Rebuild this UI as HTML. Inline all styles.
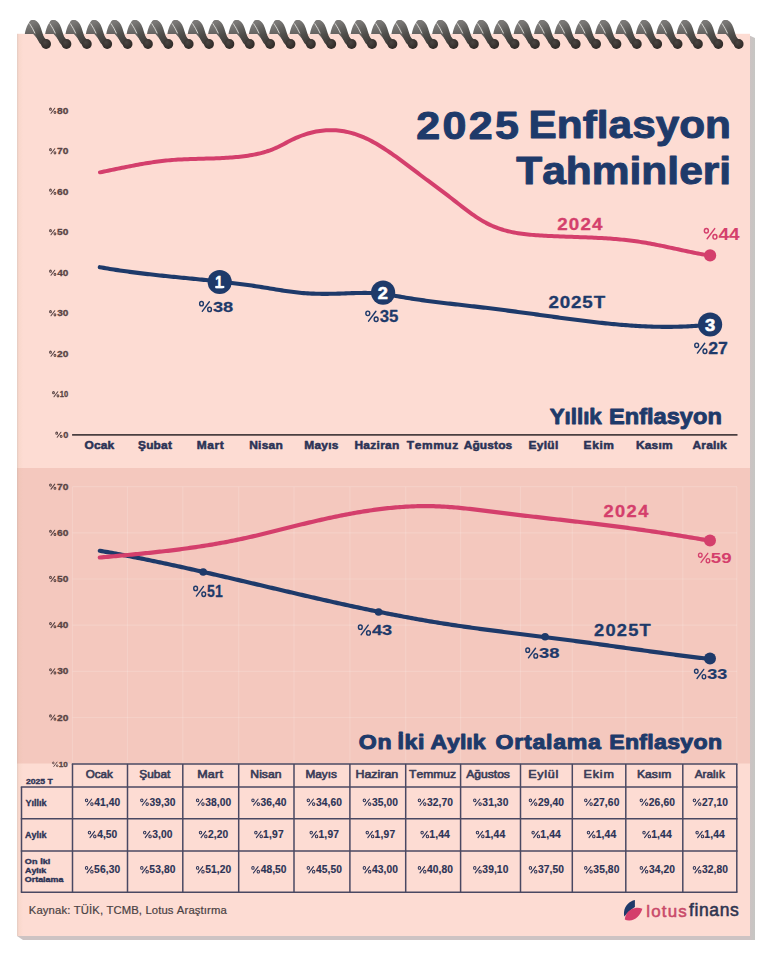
<!DOCTYPE html>
<html><head><meta charset="utf-8"><title>2025 Enflasyon Tahminleri</title>
<style>html,body{margin:0;padding:0;background:#ffffff;width:768px;height:960px;overflow:hidden;font-family:"Liberation Sans", sans-serif;}
svg{display:block;} text{font-family:"Liberation Sans", sans-serif;font-kerning:none;font-variant-ligatures:none;}</style></head><body>
<svg width="768" height="960" viewBox="0 0 768 960"><defs>
<linearGradient id="cb" gradientUnits="userSpaceOnUse" x1="0" y1="-24" x2="0" y2="-8">
 <stop offset="0" stop-color="#8a8886"/>
 <stop offset="1" stop-color="#5f5d5b"/>
</linearGradient>
<linearGradient id="cf" gradientUnits="userSpaceOnUse" x1="-12" y1="-22" x2="0" y2="2">
 <stop offset="0" stop-color="#7a7876"/>
 <stop offset="0.5" stop-color="#4f4e4b"/>
 <stop offset="1" stop-color="#3a3532"/>
</linearGradient>
<radialGradient id="cball" gradientUnits="userSpaceOnUse" cx="-1" cy="-1.5" r="5.5">
 <stop offset="0" stop-color="#4a4542"/>
 <stop offset="1" stop-color="#332d2a"/>
</radialGradient>
<g id="coil">
 <path d="M-21.1,-9.9 C-19.8,-17.5 -16.6,-24 -12.7,-24 C-9.2,-24 -7.5,-19.5 -5.5,-14 C-3.5,-8.5 -1.5,-5.2 1,-4.3 L1,4.7 C-2,4.7 -3.5,1 -4.9,-1 C-7.3,-3.5 -10.5,-7.4 -12.7,-9.9 Z" fill="url(#cb)"/>
 <path d="M-13.2,-20.6 C-9.6,-20.9 -8.2,-15 -6.8,-10.2 C-5.6,-5.8 -4,-1.5 0,0" fill="none" stroke="url(#cf)" stroke-width="6.8" stroke-linecap="round"/>
 <circle cx="0.2" cy="0" r="4.9" fill="url(#cball)"/>
 <path d="M-16.4,-20.6 C-14.3,-17.4 -12.5,-14 -10.9,-10.6" fill="none" stroke="#dddbd7" stroke-width="1.0" opacity="0.9"/>
</g>
</defs><linearGradient id="shg" gradientUnits="userSpaceOnUse" x1="749.5" y1="0" x2="755" y2="0"><stop offset="0" stop-color="#cdc3c3"/><stop offset="1" stop-color="#c6c6c3"/></linearGradient>
<path d="M749.5,35.5 L755,38 L755,940 L23,940 L17,936 L749.5,936 Z" fill="url(#shg)"/>
<rect x="17" y="33.8" width="733" height="902.2" fill="#fddcd3"/>
<rect x="17" y="468" width="733" height="295.5" fill="#f4c8be"/>
<linearGradient id="leg" gradientUnits="userSpaceOnUse" x1="17" y1="0" x2="23" y2="0"><stop offset="0" stop-color="#8a9088" stop-opacity="0.24"/><stop offset="0.35" stop-color="#e0c0a0" stop-opacity="0.12"/><stop offset="1" stop-color="#d0b090" stop-opacity="0"/></linearGradient>
<rect x="17" y="33.8" width="6" height="902.2" fill="url(#leg)"/>
<use href="#coil" transform="translate(45.90,44.0)"/>
<use href="#coil" transform="translate(66.27,44.0)"/>
<use href="#coil" transform="translate(86.64,44.0)"/>
<use href="#coil" transform="translate(107.01,44.0)"/>
<use href="#coil" transform="translate(127.38,44.0)"/>
<use href="#coil" transform="translate(147.75,44.0)"/>
<use href="#coil" transform="translate(168.12,44.0)"/>
<use href="#coil" transform="translate(188.49,44.0)"/>
<use href="#coil" transform="translate(208.86,44.0)"/>
<use href="#coil" transform="translate(229.23,44.0)"/>
<use href="#coil" transform="translate(249.60,44.0)"/>
<use href="#coil" transform="translate(269.97,44.0)"/>
<use href="#coil" transform="translate(290.34,44.0)"/>
<use href="#coil" transform="translate(310.71,44.0)"/>
<use href="#coil" transform="translate(331.08,44.0)"/>
<use href="#coil" transform="translate(351.45,44.0)"/>
<use href="#coil" transform="translate(371.82,44.0)"/>
<use href="#coil" transform="translate(392.19,44.0)"/>
<use href="#coil" transform="translate(412.56,44.0)"/>
<use href="#coil" transform="translate(432.93,44.0)"/>
<use href="#coil" transform="translate(453.30,44.0)"/>
<use href="#coil" transform="translate(473.67,44.0)"/>
<use href="#coil" transform="translate(494.04,44.0)"/>
<use href="#coil" transform="translate(514.41,44.0)"/>
<use href="#coil" transform="translate(534.78,44.0)"/>
<use href="#coil" transform="translate(555.15,44.0)"/>
<use href="#coil" transform="translate(575.52,44.0)"/>
<use href="#coil" transform="translate(595.89,44.0)"/>
<use href="#coil" transform="translate(616.26,44.0)"/>
<use href="#coil" transform="translate(636.63,44.0)"/>
<use href="#coil" transform="translate(657.00,44.0)"/>
<use href="#coil" transform="translate(677.37,44.0)"/>
<use href="#coil" transform="translate(697.74,44.0)"/>
<use href="#coil" transform="translate(718.11,44.0)"/>
<use href="#coil" transform="translate(738.48,44.0)"/>
<g font-family="Liberation Sans, sans-serif" style="font-kerning:none;font-variant-ligatures:none">
<g fill="none" stroke="#5a4545" stroke-width="1.04"><ellipse cx="50.49" cy="109.18" rx="0.91" ry="1.07"/><ellipse cx="54.96" cy="112.36" rx="0.91" ry="1.07"/><line x1="50.98" y1="113.26" x2="54.75" y2="108.19" stroke-linecap="round"/></g>
<text transform="translate(57.07,113.75) scale(1.2185,1)" font-size="8.31" font-weight="bold" fill="#5a4545" stroke="#5a4545" stroke-width="0.30" stroke-linejoin="round">80</text>
<g fill="none" stroke="#5a4545" stroke-width="1.04"><ellipse cx="50.49" cy="149.68" rx="0.91" ry="1.07"/><ellipse cx="54.96" cy="152.86" rx="0.91" ry="1.07"/><line x1="50.98" y1="153.76" x2="54.75" y2="148.69" stroke-linecap="round"/></g>
<text transform="translate(56.96,154.25) scale(1.2313,1)" font-size="8.31" font-weight="bold" fill="#5a4545" stroke="#5a4545" stroke-width="0.30" stroke-linejoin="round">70</text>
<g fill="none" stroke="#5a4545" stroke-width="1.04"><ellipse cx="50.49" cy="190.18" rx="0.91" ry="1.07"/><ellipse cx="54.96" cy="193.36" rx="0.91" ry="1.07"/><line x1="50.98" y1="194.26" x2="54.75" y2="189.19" stroke-linecap="round"/></g>
<text transform="translate(57.02,194.75) scale(1.2240,1)" font-size="8.31" font-weight="bold" fill="#5a4545" stroke="#5a4545" stroke-width="0.30" stroke-linejoin="round">60</text>
<g fill="none" stroke="#5a4545" stroke-width="1.04"><ellipse cx="50.49" cy="230.68" rx="0.91" ry="1.07"/><ellipse cx="54.96" cy="233.86" rx="0.91" ry="1.07"/><line x1="50.98" y1="234.76" x2="54.75" y2="229.69" stroke-linecap="round"/></g>
<text transform="translate(57.08,235.25) scale(1.2173,1)" font-size="8.31" font-weight="bold" fill="#5a4545" stroke="#5a4545" stroke-width="0.30" stroke-linejoin="round">50</text>
<g fill="none" stroke="#5a4545" stroke-width="1.04"><ellipse cx="50.49" cy="271.18" rx="0.91" ry="1.07"/><ellipse cx="54.96" cy="274.36" rx="0.91" ry="1.07"/><line x1="50.98" y1="275.26" x2="54.75" y2="270.19" stroke-linecap="round"/></g>
<text transform="translate(57.24,275.75) scale(1.1999,1)" font-size="8.31" font-weight="bold" fill="#5a4545" stroke="#5a4545" stroke-width="0.30" stroke-linejoin="round">40</text>
<g fill="none" stroke="#5a4545" stroke-width="1.04"><ellipse cx="50.49" cy="311.68" rx="0.91" ry="1.07"/><ellipse cx="54.96" cy="314.86" rx="0.91" ry="1.07"/><line x1="50.98" y1="315.76" x2="54.75" y2="310.69" stroke-linecap="round"/></g>
<text transform="translate(57.16,316.25) scale(1.2086,1)" font-size="8.31" font-weight="bold" fill="#5a4545" stroke="#5a4545" stroke-width="0.30" stroke-linejoin="round">30</text>
<g fill="none" stroke="#5a4545" stroke-width="1.04"><ellipse cx="50.49" cy="352.18" rx="0.91" ry="1.07"/><ellipse cx="54.96" cy="355.36" rx="0.91" ry="1.07"/><line x1="50.98" y1="356.26" x2="54.75" y2="351.19" stroke-linecap="round"/></g>
<text transform="translate(57.04,356.75) scale(1.2218,1)" font-size="8.31" font-weight="bold" fill="#5a4545" stroke="#5a4545" stroke-width="0.30" stroke-linejoin="round">20</text>
<g fill="none" stroke="#5a4545" stroke-width="1.04"><ellipse cx="53.49" cy="392.68" rx="0.91" ry="1.07"/><ellipse cx="57.96" cy="395.86" rx="0.91" ry="1.07"/><line x1="53.98" y1="396.76" x2="57.75" y2="391.69" stroke-linecap="round"/></g>
<text transform="translate(59.87,397.25) scale(0.9091,1)" font-size="8.31" font-weight="bold" fill="#5a4545" stroke="#5a4545" stroke-width="0.30" stroke-linejoin="round">10</text>
<g fill="none" stroke="#5a4545" stroke-width="1.04"><ellipse cx="56.69" cy="433.18" rx="0.91" ry="1.07"/><ellipse cx="61.16" cy="436.36" rx="0.91" ry="1.07"/><line x1="57.18" y1="437.26" x2="60.95" y2="432.19" stroke-linecap="round"/></g>
<text transform="translate(63.22,437.75) scale(1.1027,1)" font-size="8.31" font-weight="bold" fill="#5a4545" stroke="#5a4545" stroke-width="0.30" stroke-linejoin="round">0</text>
<line x1="72.1" y1="434.9" x2="737.5" y2="434.9" stroke="#4a3f40" stroke-width="1.9"/>
<text transform="translate(84.59,448.95) scale(1.1200,1)" font-size="10.67" font-weight="bold" fill="#2c3356" stroke="#2c3356" stroke-width="0.50" stroke-linejoin="round" letter-spacing="0.08">Ocak</text>
<text transform="translate(138.01,448.95) scale(1.1200,1)" font-size="10.67" font-weight="bold" fill="#2c3356" stroke="#2c3356" stroke-width="0.50" stroke-linejoin="round" letter-spacing="0.16">Şubat</text>
<text transform="translate(196.77,448.95) scale(1.1200,1)" font-size="10.67" font-weight="bold" fill="#2c3356" stroke="#2c3356" stroke-width="0.50" stroke-linejoin="round" letter-spacing="0.49">Mart</text>
<text transform="translate(249.14,448.95) scale(1.1200,1)" font-size="10.67" font-weight="bold" fill="#2c3356" stroke="#2c3356" stroke-width="0.50" stroke-linejoin="round" letter-spacing="0.25">Nisan</text>
<text transform="translate(304.16,448.95) scale(1.1200,1)" font-size="10.67" font-weight="bold" fill="#2c3356" stroke="#2c3356" stroke-width="0.50" stroke-linejoin="round" letter-spacing="0.25">Mayıs</text>
<text transform="translate(354.43,448.95) scale(1.1200,1)" font-size="10.67" font-weight="bold" fill="#2c3356" stroke="#2c3356" stroke-width="0.50" stroke-linejoin="round" letter-spacing="0.27">Haziran</text>
<text transform="translate(406.87,448.95) scale(1.1200,1)" font-size="10.67" font-weight="bold" fill="#2c3356" stroke="#2c3356" stroke-width="0.50" stroke-linejoin="round" letter-spacing="0.52">Temmuz</text>
<text transform="translate(463.67,448.95) scale(1.1200,1)" font-size="10.67" font-weight="bold" fill="#2c3356" stroke="#2c3356" stroke-width="0.50" stroke-linejoin="round" letter-spacing="0.12">Ağustos</text>
<text transform="translate(528.44,448.95) scale(1.1200,1)" font-size="10.67" font-weight="bold" fill="#2c3356" stroke="#2c3356" stroke-width="0.50" stroke-linejoin="round" letter-spacing="0.30">Eylül</text>
<text transform="translate(583.61,448.95) scale(1.1200,1)" font-size="10.67" font-weight="bold" fill="#2c3356" stroke="#2c3356" stroke-width="0.50" stroke-linejoin="round" letter-spacing="0.54">Ekim</text>
<text transform="translate(635.98,448.95) scale(1.1200,1)" font-size="10.67" font-weight="bold" fill="#2c3356" stroke="#2c3356" stroke-width="0.50" stroke-linejoin="round" letter-spacing="0.16">Kasım</text>
<text transform="translate(692.50,448.95) scale(1.1200,1)" font-size="10.67" font-weight="bold" fill="#2c3356" stroke="#2c3356" stroke-width="0.50" stroke-linejoin="round" letter-spacing="0.18">Aralık</text>
<path d="M100.00,172.34 L102.00,171.94 L104.00,171.53 L106.00,171.12 L108.00,170.71 L110.00,170.30 L112.00,169.88 L114.00,169.47 L116.00,169.06 L118.00,168.64 L120.00,168.23 L122.00,167.82 L124.00,167.42 L126.00,167.02 L128.00,166.62 L130.00,166.22 L132.00,165.84 L134.00,165.45 L136.00,165.08 L138.00,164.71 L140.00,164.34 L142.00,163.99 L144.00,163.64 L146.00,163.31 L148.00,162.98 L150.00,162.66 L152.00,162.36 L154.00,162.07 L156.00,161.78 L158.00,161.51 L160.00,161.26 L162.00,161.02 L164.00,160.79 L166.00,160.58 L168.00,160.38 L170.00,160.20 L172.00,160.03 L174.00,159.88 L176.00,159.74 L178.00,159.62 L180.00,159.50 L182.00,159.40 L184.00,159.30 L186.00,159.22 L188.00,159.14 L190.00,159.07 L192.00,159.00 L194.00,158.94 L196.00,158.88 L198.00,158.83 L200.00,158.77 L202.00,158.72 L204.00,158.67 L206.00,158.62 L208.00,158.57 L210.00,158.51 L212.00,158.45 L214.00,158.38 L216.00,158.31 L218.00,158.24 L220.00,158.15 L222.00,158.06 L224.00,157.96 L226.00,157.84 L228.00,157.72 L230.00,157.58 L232.00,157.43 L234.00,157.27 L236.00,157.09 L238.00,156.90 L240.00,156.69 L242.00,156.46 L244.00,156.21 L246.00,155.94 L248.00,155.65 L250.00,155.34 L252.00,155.00 L254.00,154.64 L256.00,154.24 L258.00,153.80 L260.00,153.33 L262.00,152.82 L264.00,152.27 L266.00,151.67 L268.00,151.02 L270.00,150.33 L272.00,149.58 L274.00,148.77 L276.00,147.91 L278.00,146.99 L280.00,146.01 L282.00,144.99 L284.00,143.95 L286.00,142.89 L288.00,141.84 L290.00,140.80 L292.00,139.80 L294.00,138.84 L296.00,137.93 L298.00,137.07 L300.00,136.26 L302.00,135.50 L304.00,134.79 L306.00,134.13 L308.00,133.52 L310.00,132.96 L312.00,132.45 L314.00,131.99 L316.00,131.58 L318.00,131.23 L320.00,130.92 L322.00,130.67 L324.00,130.46 L326.00,130.31 L328.00,130.21 L330.00,130.17 L332.00,130.17 L334.00,130.23 L336.00,130.34 L338.00,130.50 L340.00,130.71 L342.00,130.98 L344.00,131.30 L346.00,131.68 L348.00,132.10 L350.00,132.58 L352.00,133.12 L354.00,133.71 L356.00,134.35 L358.00,135.04 L360.00,135.79 L362.00,136.60 L364.00,137.45 L366.00,138.36 L368.00,139.32 L370.00,140.32 L372.00,141.37 L374.00,142.46 L376.00,143.59 L378.00,144.77 L380.00,145.97 L382.00,147.22 L384.00,148.49 L386.00,149.80 L388.00,151.13 L390.00,152.50 L392.00,153.88 L394.00,155.29 L396.00,156.72 L398.00,158.17 L400.00,159.63 L402.00,161.11 L404.00,162.60 L406.00,164.10 L408.00,165.61 L410.00,167.13 L412.00,168.65 L414.00,170.17 L416.00,171.69 L418.00,173.21 L420.00,174.73 L422.00,176.24 L424.00,177.74 L426.00,179.23 L428.00,180.72 L430.00,182.20 L432.00,183.68 L434.00,185.16 L436.00,186.64 L438.00,188.13 L440.00,189.61 L442.00,191.11 L444.00,192.62 L446.00,194.14 L448.00,195.67 L450.00,197.22 L452.00,198.77 L454.00,200.34 L456.00,201.91 L458.00,203.48 L460.00,205.04 L462.00,206.59 L464.00,208.13 L466.00,209.65 L468.00,211.15 L470.00,212.62 L472.00,214.06 L474.00,215.46 L476.00,216.82 L478.00,218.13 L480.00,219.40 L482.00,220.61 L484.00,221.77 L486.00,222.86 L488.00,223.89 L490.00,224.86 L492.00,225.77 L494.00,226.62 L496.00,227.42 L498.00,228.17 L500.00,228.86 L502.00,229.51 L504.00,230.12 L506.00,230.67 L508.00,231.19 L510.00,231.67 L512.00,232.11 L514.00,232.51 L516.00,232.88 L518.00,233.22 L520.00,233.53 L522.00,233.81 L524.00,234.07 L526.00,234.30 L528.00,234.51 L530.00,234.71 L532.00,234.88 L534.00,235.05 L536.00,235.19 L538.00,235.33 L540.00,235.46 L542.00,235.58 L544.00,235.70 L546.00,235.81 L548.00,235.91 L550.00,236.01 L552.00,236.11 L554.00,236.20 L556.00,236.28 L558.00,236.36 L560.00,236.44 L562.00,236.52 L564.00,236.59 L566.00,236.66 L568.00,236.73 L570.00,236.80 L572.00,236.87 L574.00,236.94 L576.00,237.01 L578.00,237.08 L580.00,237.15 L582.00,237.22 L584.00,237.29 L586.00,237.37 L588.00,237.45 L590.00,237.53 L592.00,237.61 L594.00,237.70 L596.00,237.80 L598.00,237.90 L600.00,238.00 L602.00,238.11 L604.00,238.23 L606.00,238.35 L608.00,238.48 L610.00,238.62 L612.00,238.76 L614.00,238.92 L616.00,239.08 L618.00,239.25 L620.00,239.43 L622.00,239.62 L624.00,239.82 L626.00,240.03 L628.00,240.26 L630.00,240.49 L632.00,240.74 L634.00,241.00 L636.00,241.27 L638.00,241.56 L640.00,241.86 L642.00,242.17 L644.00,242.50 L646.00,242.84 L648.00,243.19 L650.00,243.55 L652.00,243.93 L654.00,244.31 L656.00,244.70 L658.00,245.09 L660.00,245.50 L662.00,245.91 L664.00,246.32 L666.00,246.75 L668.00,247.17 L670.00,247.60 L672.00,248.03 L674.00,248.46 L676.00,248.89 L678.00,249.32 L680.00,249.76 L682.00,250.19 L684.00,250.62 L686.00,251.04 L688.00,251.46 L690.00,251.88 L692.00,252.29 L694.00,252.70 L696.00,253.10 L698.00,253.49 L700.00,253.87 L702.00,254.25 L704.00,254.61 L706.00,254.97 L708.00,255.31 L710.00,255.64 L710.10,255.66" fill="none" stroke="#d43f6c" stroke-width="4" stroke-linecap="round" stroke-linejoin="round"/>
<path d="M99.80,267.18 L101.80,267.53 L103.80,267.89 L105.80,268.23 L107.80,268.57 L109.80,268.90 L111.80,269.22 L113.80,269.54 L115.80,269.85 L117.80,270.15 L119.80,270.45 L121.80,270.74 L123.80,271.03 L125.80,271.31 L127.80,271.59 L129.80,271.86 L131.80,272.12 L133.80,272.38 L135.80,272.64 L137.80,272.89 L139.80,273.14 L141.80,273.38 L143.80,273.62 L145.80,273.86 L147.80,274.09 L149.80,274.32 L151.80,274.55 L153.80,274.77 L155.80,274.99 L157.80,275.21 L159.80,275.42 L161.80,275.64 L163.80,275.85 L165.80,276.06 L167.80,276.26 L169.80,276.47 L171.80,276.67 L173.80,276.87 L175.80,277.07 L177.80,277.27 L179.80,277.47 L181.80,277.67 L183.80,277.87 L185.80,278.07 L187.80,278.27 L189.80,278.46 L191.80,278.66 L193.80,278.86 L195.80,279.06 L197.80,279.26 L199.80,279.46 L201.80,279.66 L203.80,279.87 L205.80,280.07 L207.80,280.28 L209.80,280.49 L211.80,280.70 L213.80,280.91 L215.80,281.12 L217.80,281.34 L219.80,281.56 L221.80,281.78 L223.80,282.01 L225.80,282.24 L227.80,282.47 L229.80,282.71 L231.80,282.95 L233.80,283.19 L235.80,283.44 L237.80,283.69 L239.80,283.94 L241.80,284.21 L243.80,284.47 L245.80,284.74 L247.80,285.02 L249.80,285.30 L251.80,285.58 L253.80,285.88 L255.80,286.17 L257.80,286.48 L259.80,286.79 L261.80,287.10 L263.80,287.42 L265.80,287.75 L267.80,288.08 L269.80,288.41 L271.80,288.74 L273.80,289.07 L275.80,289.40 L277.80,289.73 L279.80,290.05 L281.80,290.37 L283.80,290.68 L285.80,290.98 L287.80,291.27 L289.80,291.55 L291.80,291.82 L293.80,292.07 L295.80,292.31 L297.80,292.54 L299.80,292.74 L301.80,292.93 L303.80,293.10 L305.80,293.25 L307.80,293.38 L309.80,293.50 L311.80,293.59 L313.80,293.67 L315.80,293.73 L317.80,293.78 L319.80,293.82 L321.80,293.84 L323.80,293.85 L325.80,293.85 L327.80,293.84 L329.80,293.81 L331.80,293.78 L333.80,293.74 L335.80,293.70 L337.80,293.65 L339.80,293.59 L341.80,293.52 L343.80,293.46 L345.80,293.39 L347.80,293.31 L349.80,293.24 L351.80,293.17 L353.80,293.11 L355.80,293.05 L357.80,293.00 L359.80,292.96 L361.80,292.93 L363.80,292.92 L365.80,292.92 L367.80,292.94 L369.80,292.98 L371.80,293.04 L373.80,293.13 L375.80,293.24 L377.80,293.38 L379.80,293.55 L381.80,293.75 L383.80,293.98 L385.80,294.25 L387.80,294.55 L389.80,294.87 L391.80,295.20 L393.80,295.55 L395.80,295.91 L397.80,296.27 L399.80,296.63 L401.80,296.98 L403.80,297.32 L405.80,297.66 L407.80,297.98 L409.80,298.31 L411.80,298.62 L413.80,298.93 L415.80,299.23 L417.80,299.53 L419.80,299.82 L421.80,300.10 L423.80,300.38 L425.80,300.66 L427.80,300.93 L429.80,301.19 L431.80,301.45 L433.80,301.71 L435.80,301.96 L437.80,302.21 L439.80,302.46 L441.80,302.71 L443.80,302.95 L445.80,303.19 L447.80,303.42 L449.80,303.66 L451.80,303.89 L453.80,304.12 L455.80,304.35 L457.80,304.58 L459.80,304.81 L461.80,305.04 L463.80,305.27 L465.80,305.49 L467.80,305.72 L469.80,305.95 L471.80,306.18 L473.80,306.41 L475.80,306.64 L477.80,306.88 L479.80,307.11 L481.80,307.35 L483.80,307.59 L485.80,307.83 L487.80,308.07 L489.80,308.32 L491.80,308.57 L493.80,308.81 L495.80,309.07 L497.80,309.32 L499.80,309.57 L501.80,309.83 L503.80,310.08 L505.80,310.34 L507.80,310.60 L509.80,310.86 L511.80,311.13 L513.80,311.39 L515.80,311.65 L517.80,311.92 L519.80,312.19 L521.80,312.46 L523.80,312.73 L525.80,313.00 L527.80,313.27 L529.80,313.54 L531.80,313.81 L533.80,314.09 L535.80,314.36 L537.80,314.64 L539.80,314.91 L541.80,315.19 L543.80,315.46 L545.80,315.74 L547.80,316.02 L549.80,316.29 L551.80,316.57 L553.80,316.85 L555.80,317.12 L557.80,317.39 L559.80,317.67 L561.80,317.94 L563.80,318.21 L565.80,318.48 L567.80,318.75 L569.80,319.01 L571.80,319.28 L573.80,319.54 L575.80,319.80 L577.80,320.06 L579.80,320.31 L581.80,320.56 L583.80,320.81 L585.80,321.06 L587.80,321.30 L589.80,321.55 L591.80,321.78 L593.80,322.02 L595.80,322.25 L597.80,322.47 L599.80,322.70 L601.80,322.91 L603.80,323.13 L605.80,323.34 L607.80,323.54 L609.80,323.74 L611.80,323.94 L613.80,324.13 L615.80,324.32 L617.80,324.50 L619.80,324.67 L621.80,324.84 L623.80,325.01 L625.80,325.16 L627.80,325.32 L629.80,325.46 L631.80,325.60 L633.80,325.73 L635.80,325.86 L637.80,325.98 L639.80,326.09 L641.80,326.20 L643.80,326.30 L645.80,326.39 L647.80,326.47 L649.80,326.55 L651.80,326.62 L653.80,326.68 L655.80,326.73 L657.80,326.77 L659.80,326.81 L661.80,326.83 L663.80,326.85 L665.80,326.86 L667.80,326.86 L669.80,326.85 L671.80,326.83 L673.80,326.81 L675.80,326.77 L677.80,326.72 L679.80,326.67 L681.80,326.60 L683.80,326.52 L685.80,326.43 L687.80,326.34 L689.80,326.23 L691.80,326.11 L693.80,325.98 L695.80,325.84 L697.80,325.69 L699.80,325.52 L701.80,325.35 L703.80,325.16 L705.80,324.96 L707.80,324.75 L709.80,324.53 L710.10,324.49" fill="none" stroke="#1e3a6a" stroke-width="4.1" stroke-linecap="round" stroke-linejoin="round"/>
<circle cx="710.1" cy="255.4" r="6.1" fill="#d43f6c"/>
<circle cx="219.7" cy="282.0" r="12.1" fill="#1e3a6a"/>
<circle cx="383.1" cy="292.6" r="12.1" fill="#1e3a6a"/>
<circle cx="710.1" cy="324.5" r="12.1" fill="#1e3a6a"/>
<text transform="translate(215.19,287.80) scale(0.8116,1)" font-size="16.72" font-weight="bold" fill="#ffffff" stroke="#ffffff" stroke-width="0.60" stroke-linejoin="round">1</text>
<rect x="215.3" y="285.9" width="9.0" height="2.2" fill="#ffffff"/>
<text transform="translate(377.70,298.50) scale(1.1021,1)" font-size="16.47" font-weight="bold" fill="#ffffff" stroke="#ffffff" stroke-width="0.60" stroke-linejoin="round">2</text>
<text transform="translate(704.91,330.50) scale(1.1153,1)" font-size="16.47" font-weight="bold" fill="#ffffff" stroke="#ffffff" stroke-width="0.60" stroke-linejoin="round">3</text>
<g fill="none" stroke="#1e3a6a" stroke-width="1.38"><ellipse cx="201.51" cy="303.73" rx="1.89" ry="2.17"/><ellipse cx="209.56" cy="309.46" rx="1.89" ry="2.17"/><line x1="202.25" y1="311.29" x2="209.35" y2="301.74" stroke-linecap="round"/></g>
<text transform="translate(212.92,311.88) scale(1.1850,1)" font-size="15.40" font-weight="bold" fill="#1e3a6a" stroke="#1e3a6a" stroke-width="0.25" stroke-linejoin="round">38</text>
<g fill="none" stroke="#1e3a6a" stroke-width="1.42"><ellipse cx="367.80" cy="313.34" rx="1.96" ry="2.25"/><ellipse cx="376.14" cy="319.28" rx="1.96" ry="2.25"/><line x1="368.57" y1="321.18" x2="375.92" y2="311.28" stroke-linecap="round"/></g>
<text transform="translate(379.65,321.77) scale(1.0519,1)" font-size="15.97" font-weight="bold" fill="#1e3a6a" stroke="#1e3a6a" stroke-width="0.25" stroke-linejoin="round">35</text>
<g fill="none" stroke="#1e3a6a" stroke-width="1.41"><ellipse cx="696.68" cy="345.31" rx="1.94" ry="2.23"/><ellipse cx="704.95" cy="351.20" rx="1.94" ry="2.23"/><line x1="697.44" y1="353.08" x2="704.73" y2="343.27" stroke-linecap="round"/></g>
<text transform="translate(708.20,353.68) scale(1.1213,1)" font-size="15.83" font-weight="bold" fill="#1e3a6a" stroke="#1e3a6a" stroke-width="0.25" stroke-linejoin="round">27</text>
<text transform="translate(548.42,307.55) scale(1.1200,1)" font-size="16.76" font-weight="bold" fill="#1e3a6a" stroke="#1e3a6a" stroke-width="0.30" stroke-linejoin="round" letter-spacing="0.78">2025T</text>
<text transform="translate(557.22,229.65) scale(1.1200,1)" font-size="16.76" font-weight="bold" fill="#d43f6c" stroke="#d43f6c" stroke-width="0.30" stroke-linejoin="round" letter-spacing="1.03">2024</text>
<g fill="none" stroke="#d43f6c" stroke-width="1.46"><ellipse cx="706.37" cy="230.72" rx="2.01" ry="2.31"/><ellipse cx="714.93" cy="236.82" rx="2.01" ry="2.31"/><line x1="707.16" y1="238.77" x2="714.70" y2="228.61" stroke-linecap="round"/></g>
<text transform="translate(718.50,239.50) scale(1.1206,1)" font-size="17.01" font-weight="bold" fill="#d43f6c">44</text>
<text transform="translate(416.37,138.50) scale(1.1200,1)" font-size="38.38" font-weight="bold" fill="#1e3a6a" stroke="#1e3a6a" stroke-width="1.00" stroke-linejoin="round" letter-spacing="2.06">2025</text>
<text transform="translate(528.61,138.30) scale(1.0831,1)" font-size="39.10" font-weight="bold" fill="#1e3a6a" stroke="#1e3a6a" stroke-width="1.00" stroke-linejoin="round">Enflasyon</text>
<text transform="translate(516.16,184.40) scale(1.0839,1)" font-size="39.24" font-weight="bold" fill="#1e3a6a" stroke="#1e3a6a" stroke-width="1.00" stroke-linejoin="round">Tahminleri</text>
<text transform="translate(549.68,423.65) scale(1.0177,1)" font-size="21.95" font-weight="bold" fill="#1e3a6a" stroke="#1e3a6a" stroke-width="0.90" stroke-linejoin="round">Yıllık</text>
<text transform="translate(609.01,423.55) scale(1.0833,1)" font-size="21.80" font-weight="bold" fill="#1e3a6a" stroke="#1e3a6a" stroke-width="0.90" stroke-linejoin="round">Enflasyon</text>
<g stroke="#ffffff" stroke-opacity="0.15" stroke-width="1.2"><line x1="72.5" y1="486.7" x2="737" y2="486.7"/><line x1="72.5" y1="532.9" x2="737" y2="532.9"/><line x1="72.5" y1="579.0" x2="737" y2="579.0"/><line x1="72.5" y1="625.2" x2="737" y2="625.2"/><line x1="72.5" y1="671.4" x2="737" y2="671.4"/><line x1="72.5" y1="717.5" x2="737" y2="717.5"/><line x1="72.5" y1="486.7" x2="72.5" y2="763"/><line x1="127.5" y1="486.7" x2="127.5" y2="763"/><line x1="182.8" y1="486.7" x2="182.8" y2="763"/><line x1="238.7" y1="486.7" x2="238.7" y2="763"/><line x1="294.0" y1="486.7" x2="294.0" y2="763"/><line x1="349.9" y1="486.7" x2="349.9" y2="763"/><line x1="405.7" y1="486.7" x2="405.7" y2="763"/><line x1="460.6" y1="486.7" x2="460.6" y2="763"/><line x1="520.5" y1="486.7" x2="520.5" y2="763"/><line x1="572.3" y1="486.7" x2="572.3" y2="763"/><line x1="625.8" y1="486.7" x2="625.8" y2="763"/><line x1="682.8" y1="486.7" x2="682.8" y2="763"/><line x1="736.8" y1="486.7" x2="736.8" y2="763"/></g>
<g fill="none" stroke="#5a4545" stroke-width="1.04"><ellipse cx="50.49" cy="485.08" rx="0.91" ry="1.07"/><ellipse cx="54.96" cy="488.26" rx="0.91" ry="1.07"/><line x1="50.98" y1="489.16" x2="54.75" y2="484.09" stroke-linecap="round"/></g>
<text transform="translate(56.96,489.65) scale(1.2313,1)" font-size="8.31" font-weight="bold" fill="#5a4545" stroke="#5a4545" stroke-width="0.30" stroke-linejoin="round">70</text>
<g fill="none" stroke="#5a4545" stroke-width="1.04"><ellipse cx="50.49" cy="531.25" rx="0.91" ry="1.07"/><ellipse cx="54.96" cy="534.43" rx="0.91" ry="1.07"/><line x1="50.98" y1="535.33" x2="54.75" y2="530.26" stroke-linecap="round"/></g>
<text transform="translate(57.02,535.82) scale(1.2240,1)" font-size="8.31" font-weight="bold" fill="#5a4545" stroke="#5a4545" stroke-width="0.30" stroke-linejoin="round">60</text>
<g fill="none" stroke="#5a4545" stroke-width="1.04"><ellipse cx="50.49" cy="577.42" rx="0.91" ry="1.07"/><ellipse cx="54.96" cy="580.60" rx="0.91" ry="1.07"/><line x1="50.98" y1="581.50" x2="54.75" y2="576.43" stroke-linecap="round"/></g>
<text transform="translate(57.08,581.99) scale(1.2173,1)" font-size="8.31" font-weight="bold" fill="#5a4545" stroke="#5a4545" stroke-width="0.30" stroke-linejoin="round">50</text>
<g fill="none" stroke="#5a4545" stroke-width="1.04"><ellipse cx="50.49" cy="623.59" rx="0.91" ry="1.07"/><ellipse cx="54.96" cy="626.77" rx="0.91" ry="1.07"/><line x1="50.98" y1="627.67" x2="54.75" y2="622.60" stroke-linecap="round"/></g>
<text transform="translate(57.24,628.16) scale(1.1999,1)" font-size="8.31" font-weight="bold" fill="#5a4545" stroke="#5a4545" stroke-width="0.30" stroke-linejoin="round">40</text>
<g fill="none" stroke="#5a4545" stroke-width="1.04"><ellipse cx="50.49" cy="669.76" rx="0.91" ry="1.07"/><ellipse cx="54.96" cy="672.94" rx="0.91" ry="1.07"/><line x1="50.98" y1="673.84" x2="54.75" y2="668.77" stroke-linecap="round"/></g>
<text transform="translate(57.16,674.33) scale(1.2086,1)" font-size="8.31" font-weight="bold" fill="#5a4545" stroke="#5a4545" stroke-width="0.30" stroke-linejoin="round">30</text>
<g fill="none" stroke="#5a4545" stroke-width="1.04"><ellipse cx="50.49" cy="715.93" rx="0.91" ry="1.07"/><ellipse cx="54.96" cy="719.11" rx="0.91" ry="1.07"/><line x1="50.98" y1="720.01" x2="54.75" y2="714.94" stroke-linecap="round"/></g>
<text transform="translate(57.04,720.50) scale(1.2218,1)" font-size="8.31" font-weight="bold" fill="#5a4545" stroke="#5a4545" stroke-width="0.30" stroke-linejoin="round">20</text>
<g fill="none" stroke="#5a4545" stroke-width="0.90"><ellipse cx="53.31" cy="762.96" rx="0.79" ry="0.93"/><ellipse cx="57.19" cy="765.72" rx="0.79" ry="0.93"/><line x1="53.74" y1="766.51" x2="57.01" y2="762.10" stroke-linecap="round"/></g>
<text transform="translate(58.81,766.95) scale(1.1371,1)" font-size="7.16" font-weight="bold" fill="#5a4545" stroke="#5a4545" stroke-width="0.30" stroke-linejoin="round">10</text>
<path d="M99.80,550.77 L101.80,551.12 L103.80,551.47 L105.80,551.82 L107.80,552.18 L109.80,552.54 L111.80,552.90 L113.80,553.27 L115.80,553.63 L117.80,554.00 L119.80,554.38 L121.80,554.75 L123.80,555.13 L125.80,555.51 L127.80,555.90 L129.80,556.29 L131.80,556.67 L133.80,557.07 L135.80,557.46 L137.80,557.86 L139.80,558.26 L141.80,558.66 L143.80,559.06 L145.80,559.47 L147.80,559.87 L149.80,560.28 L151.80,560.70 L153.80,561.11 L155.80,561.53 L157.80,561.95 L159.80,562.37 L161.80,562.79 L163.80,563.21 L165.80,563.64 L167.80,564.07 L169.80,564.50 L171.80,564.93 L173.80,565.36 L175.80,565.80 L177.80,566.23 L179.80,566.67 L181.80,567.11 L183.80,567.55 L185.80,567.99 L187.80,568.44 L189.80,568.88 L191.80,569.33 L193.80,569.78 L195.80,570.23 L197.80,570.68 L199.80,571.13 L201.80,571.58 L203.80,572.04 L205.80,572.49 L207.80,572.95 L209.80,573.41 L211.80,573.87 L213.80,574.33 L215.80,574.79 L217.80,575.25 L219.80,575.71 L221.80,576.17 L223.80,576.64 L225.80,577.10 L227.80,577.57 L229.80,578.03 L231.80,578.50 L233.80,578.96 L235.80,579.43 L237.80,579.90 L239.80,580.37 L241.80,580.84 L243.80,581.31 L245.80,581.78 L247.80,582.25 L249.80,582.72 L251.80,583.19 L253.80,583.66 L255.80,584.13 L257.80,584.60 L259.80,585.07 L261.80,585.54 L263.80,586.01 L265.80,586.48 L267.80,586.95 L269.80,587.42 L271.80,587.89 L273.80,588.36 L275.80,588.83 L277.80,589.30 L279.80,589.77 L281.80,590.24 L283.80,590.71 L285.80,591.18 L287.80,591.65 L289.80,592.11 L291.80,592.58 L293.80,593.05 L295.80,593.51 L297.80,593.98 L299.80,594.44 L301.80,594.91 L303.80,595.37 L305.80,595.83 L307.80,596.29 L309.80,596.75 L311.80,597.21 L313.80,597.67 L315.80,598.13 L317.80,598.58 L319.80,599.04 L321.80,599.49 L323.80,599.95 L325.80,600.40 L327.80,600.85 L329.80,601.30 L331.80,601.74 L333.80,602.19 L335.80,602.64 L337.80,603.08 L339.80,603.52 L341.80,603.96 L343.80,604.40 L345.80,604.84 L347.80,605.28 L349.80,605.71 L351.80,606.15 L353.80,606.58 L355.80,607.01 L357.80,607.43 L359.80,607.86 L361.80,608.28 L363.80,608.71 L365.80,609.13 L367.80,609.54 L369.80,609.96 L371.80,610.37 L373.80,610.79 L375.80,611.20 L377.80,611.60 L379.80,612.01 L381.80,612.41 L383.80,612.81 L385.80,613.21 L387.80,613.61 L389.80,614.00 L391.80,614.39 L393.80,614.78 L395.80,615.17 L397.80,615.55 L399.80,615.93 L401.80,616.31 L403.80,616.69 L405.80,617.06 L407.80,617.43 L409.80,617.80 L411.80,618.16 L413.80,618.52 L415.80,618.88 L417.80,619.24 L419.80,619.59 L421.80,619.94 L423.80,620.29 L425.80,620.63 L427.80,620.97 L429.80,621.31 L431.80,621.64 L433.80,621.97 L435.80,622.30 L437.80,622.63 L439.80,622.95 L441.80,623.27 L443.80,623.58 L445.80,623.89 L447.80,624.20 L449.80,624.51 L451.80,624.81 L453.80,625.11 L455.80,625.41 L457.80,625.71 L459.80,626.00 L461.80,626.29 L463.80,626.58 L465.80,626.87 L467.80,627.15 L469.80,627.43 L471.80,627.71 L473.80,627.99 L475.80,628.27 L477.80,628.54 L479.80,628.81 L481.80,629.08 L483.80,629.35 L485.80,629.62 L487.80,629.88 L489.80,630.15 L491.80,630.41 L493.80,630.67 L495.80,630.93 L497.80,631.19 L499.80,631.45 L501.80,631.70 L503.80,631.96 L505.80,632.21 L507.80,632.47 L509.80,632.72 L511.80,632.97 L513.80,633.22 L515.80,633.47 L517.80,633.72 L519.80,633.97 L521.80,634.22 L523.80,634.47 L525.80,634.72 L527.80,634.97 L529.80,635.22 L531.80,635.47 L533.80,635.72 L535.80,635.96 L537.80,636.21 L539.80,636.46 L541.80,636.71 L543.80,636.96 L545.80,637.21 L547.80,637.46 L549.80,637.71 L551.80,637.96 L553.80,638.22 L555.80,638.47 L557.80,638.72 L559.80,638.98 L561.80,639.23 L563.80,639.49 L565.80,639.75 L567.80,640.01 L569.80,640.27 L571.80,640.53 L573.80,640.79 L575.80,641.06 L577.80,641.32 L579.80,641.59 L581.80,641.86 L583.80,642.13 L585.80,642.40 L587.80,642.67 L589.80,642.94 L591.80,643.22 L593.80,643.49 L595.80,643.77 L597.80,644.04 L599.80,644.32 L601.80,644.60 L603.80,644.87 L605.80,645.15 L607.80,645.43 L609.80,645.71 L611.80,645.99 L613.80,646.27 L615.80,646.55 L617.80,646.83 L619.80,647.11 L621.80,647.39 L623.80,647.68 L625.80,647.96 L627.80,648.24 L629.80,648.52 L631.80,648.80 L633.80,649.08 L635.80,649.36 L637.80,649.64 L639.80,649.92 L641.80,650.20 L643.80,650.47 L645.80,650.75 L647.80,651.03 L649.80,651.30 L651.80,651.58 L653.80,651.85 L655.80,652.13 L657.80,652.40 L659.80,652.67 L661.80,652.94 L663.80,653.21 L665.80,653.48 L667.80,653.74 L669.80,654.01 L671.80,654.27 L673.80,654.54 L675.80,654.80 L677.80,655.06 L679.80,655.32 L681.80,655.57 L683.80,655.83 L685.80,656.08 L687.80,656.33 L689.80,656.58 L691.80,656.83 L693.80,657.07 L695.80,657.32 L697.80,657.56 L699.80,657.80 L701.80,658.03 L703.80,658.27 L705.80,658.50 L707.80,658.73 L709.80,658.96 L710.00,658.98" fill="none" stroke="#1e3a6a" stroke-width="4.2" stroke-linecap="round" stroke-linejoin="round"/>
<path d="M99.80,557.50 L101.80,557.33 L103.80,557.15 L105.80,556.97 L107.80,556.79 L109.80,556.61 L111.80,556.44 L113.80,556.26 L115.80,556.08 L117.80,555.89 L119.80,555.71 L121.80,555.53 L123.80,555.34 L125.80,555.16 L127.80,554.97 L129.80,554.78 L131.80,554.59 L133.80,554.40 L135.80,554.21 L137.80,554.01 L139.80,553.81 L141.80,553.61 L143.80,553.41 L145.80,553.21 L147.80,553.00 L149.80,552.79 L151.80,552.58 L153.80,552.37 L155.80,552.15 L157.80,551.93 L159.80,551.71 L161.80,551.48 L163.80,551.26 L165.80,551.02 L167.80,550.79 L169.80,550.55 L171.80,550.31 L173.80,550.06 L175.80,549.81 L177.80,549.56 L179.80,549.30 L181.80,549.04 L183.80,548.77 L185.80,548.50 L187.80,548.23 L189.80,547.95 L191.80,547.67 L193.80,547.38 L195.80,547.09 L197.80,546.79 L199.80,546.49 L201.80,546.18 L203.80,545.87 L205.80,545.55 L207.80,545.23 L209.80,544.90 L211.80,544.57 L213.80,544.23 L215.80,543.88 L217.80,543.53 L219.80,543.18 L221.80,542.81 L223.80,542.44 L225.80,542.07 L227.80,541.69 L229.80,541.30 L231.80,540.91 L233.80,540.51 L235.80,540.10 L237.80,539.68 L239.80,539.26 L241.80,538.84 L243.80,538.40 L245.80,537.96 L247.80,537.51 L249.80,537.06 L251.80,536.60 L253.80,536.14 L255.80,535.67 L257.80,535.20 L259.80,534.72 L261.80,534.24 L263.80,533.76 L265.80,533.27 L267.80,532.78 L269.80,532.29 L271.80,531.79 L273.80,531.30 L275.80,530.80 L277.80,530.30 L279.80,529.80 L281.80,529.30 L283.80,528.80 L285.80,528.30 L287.80,527.79 L289.80,527.29 L291.80,526.80 L293.80,526.30 L295.80,525.80 L297.80,525.31 L299.80,524.82 L301.80,524.33 L303.80,523.84 L305.80,523.36 L307.80,522.88 L309.80,522.40 L311.80,521.93 L313.80,521.46 L315.80,521.00 L317.80,520.53 L319.80,520.08 L321.80,519.63 L323.80,519.18 L325.80,518.74 L327.80,518.30 L329.80,517.86 L331.80,517.44 L333.80,517.01 L335.80,516.60 L337.80,516.19 L339.80,515.78 L341.80,515.38 L343.80,514.99 L345.80,514.60 L347.80,514.22 L349.80,513.85 L351.80,513.48 L353.80,513.12 L355.80,512.77 L357.80,512.42 L359.80,512.08 L361.80,511.75 L363.80,511.43 L365.80,511.11 L367.80,510.81 L369.80,510.51 L371.80,510.22 L373.80,509.94 L375.80,509.66 L377.80,509.40 L379.80,509.14 L381.80,508.90 L383.80,508.66 L385.80,508.43 L387.80,508.21 L389.80,508.01 L391.80,507.81 L393.80,507.62 L395.80,507.44 L397.80,507.27 L399.80,507.12 L401.80,506.97 L403.80,506.84 L405.80,506.71 L407.80,506.60 L409.80,506.50 L411.80,506.41 L413.80,506.33 L415.80,506.26 L417.80,506.21 L419.80,506.16 L421.80,506.13 L423.80,506.12 L425.80,506.11 L427.80,506.12 L429.80,506.14 L431.80,506.17 L433.80,506.22 L435.80,506.28 L437.80,506.36 L439.80,506.44 L441.80,506.54 L443.80,506.65 L445.80,506.77 L447.80,506.90 L449.80,507.05 L451.80,507.20 L453.80,507.36 L455.80,507.53 L457.80,507.71 L459.80,507.90 L461.80,508.09 L463.80,508.30 L465.80,508.51 L467.80,508.72 L469.80,508.94 L471.80,509.17 L473.80,509.40 L475.80,509.64 L477.80,509.88 L479.80,510.12 L481.80,510.36 L483.80,510.61 L485.80,510.86 L487.80,511.12 L489.80,511.37 L491.80,511.63 L493.80,511.88 L495.80,512.13 L497.80,512.39 L499.80,512.64 L501.80,512.89 L503.80,513.14 L505.80,513.39 L507.80,513.64 L509.80,513.88 L511.80,514.13 L513.80,514.37 L515.80,514.61 L517.80,514.85 L519.80,515.09 L521.80,515.32 L523.80,515.56 L525.80,515.79 L527.80,516.03 L529.80,516.26 L531.80,516.49 L533.80,516.73 L535.80,516.96 L537.80,517.19 L539.80,517.42 L541.80,517.65 L543.80,517.88 L545.80,518.10 L547.80,518.33 L549.80,518.56 L551.80,518.79 L553.80,519.02 L555.80,519.24 L557.80,519.47 L559.80,519.70 L561.80,519.93 L563.80,520.16 L565.80,520.39 L567.80,520.62 L569.80,520.85 L571.80,521.08 L573.80,521.31 L575.80,521.54 L577.80,521.77 L579.80,522.00 L581.80,522.24 L583.80,522.47 L585.80,522.71 L587.80,522.94 L589.80,523.18 L591.80,523.42 L593.80,523.66 L595.80,523.90 L597.80,524.14 L599.80,524.38 L601.80,524.63 L603.80,524.87 L605.80,525.12 L607.80,525.37 L609.80,525.62 L611.80,525.87 L613.80,526.13 L615.80,526.38 L617.80,526.64 L619.80,526.90 L621.80,527.16 L623.80,527.42 L625.80,527.69 L627.80,527.95 L629.80,528.22 L631.80,528.50 L633.80,528.77 L635.80,529.04 L637.80,529.32 L639.80,529.60 L641.80,529.89 L643.80,530.17 L645.80,530.46 L647.80,530.75 L649.80,531.04 L651.80,531.34 L653.80,531.63 L655.80,531.93 L657.80,532.24 L659.80,532.54 L661.80,532.84 L663.80,533.15 L665.80,533.46 L667.80,533.77 L669.80,534.09 L671.80,534.40 L673.80,534.72 L675.80,535.04 L677.80,535.36 L679.80,535.68 L681.80,536.00 L683.80,536.33 L685.80,536.66 L687.80,536.98 L689.80,537.31 L691.80,537.64 L693.80,537.97 L695.80,538.30 L697.80,538.64 L699.80,538.97 L701.80,539.31 L703.80,539.64 L705.80,539.98 L707.80,540.31 L709.80,540.65 L710.00,540.69" fill="none" stroke="#d43f6c" stroke-width="4.2" stroke-linecap="round" stroke-linejoin="round"/>
<circle cx="710.0" cy="540.5" r="6.0" fill="#d43f6c"/>
<circle cx="710.0" cy="658.4" r="6.0" fill="#1e3a6a"/>
<circle cx="203.2" cy="572.0" r="3.8" fill="#1e3a6a"/>
<circle cx="378.6" cy="612.0" r="3.8" fill="#1e3a6a"/>
<circle cx="545.1" cy="636.7" r="3.8" fill="#1e3a6a"/>
<g fill="none" stroke="#1e3a6a" stroke-width="1.39"><ellipse cx="195.63" cy="588.46" rx="1.90" ry="2.19"/><ellipse cx="203.76" cy="594.24" rx="1.90" ry="2.19"/><line x1="196.38" y1="596.09" x2="203.54" y2="586.45" stroke-linecap="round"/></g>
<text transform="translate(207.10,596.67) scale(0.8881,1)" font-size="15.77" font-weight="bold" fill="#1e3a6a" stroke="#1e3a6a" stroke-width="0.25" stroke-linejoin="round">51</text>
<g fill="none" stroke="#1e3a6a" stroke-width="1.39"><ellipse cx="360.33" cy="627.16" rx="1.90" ry="2.19"/><ellipse cx="368.46" cy="632.94" rx="1.90" ry="2.19"/><line x1="361.08" y1="634.79" x2="368.24" y2="625.15" stroke-linecap="round"/></g>
<text transform="translate(371.99,635.38) scale(1.1699,1)" font-size="15.54" font-weight="bold" fill="#1e3a6a" stroke="#1e3a6a" stroke-width="0.25" stroke-linejoin="round">43</text>
<g fill="none" stroke="#1e3a6a" stroke-width="1.38"><ellipse cx="527.71" cy="650.23" rx="1.89" ry="2.17"/><ellipse cx="535.76" cy="655.96" rx="1.89" ry="2.17"/><line x1="528.45" y1="657.79" x2="535.55" y2="648.24" stroke-linecap="round"/></g>
<text transform="translate(539.12,658.38) scale(1.1911,1)" font-size="15.40" font-weight="bold" fill="#1e3a6a" stroke="#1e3a6a" stroke-width="0.25" stroke-linejoin="round">38</text>
<g fill="none" stroke="#1e3a6a" stroke-width="1.31"><ellipse cx="696.29" cy="671.29" rx="1.80" ry="2.07"/><ellipse cx="703.98" cy="676.76" rx="1.80" ry="2.07"/><line x1="697.00" y1="678.51" x2="703.78" y2="669.39" stroke-linecap="round"/></g>
<text transform="translate(707.19,679.08) scale(1.2192,1)" font-size="14.68" font-weight="bold" fill="#1e3a6a" stroke="#1e3a6a" stroke-width="0.25" stroke-linejoin="round">33</text>
<text transform="translate(594.03,635.75) scale(1.1200,1)" font-size="16.33" font-weight="bold" fill="#1e3a6a" stroke="#1e3a6a" stroke-width="0.30" stroke-linejoin="round" letter-spacing="1.10">2025T</text>
<text transform="translate(603.43,517.45) scale(1.1200,1)" font-size="16.33" font-weight="bold" fill="#d43f6c" stroke="#d43f6c" stroke-width="0.30" stroke-linejoin="round" letter-spacing="1.26">2024</text>
<g fill="none" stroke="#d43f6c" stroke-width="1.31"><ellipse cx="700.29" cy="555.19" rx="1.80" ry="2.07"/><ellipse cx="707.98" cy="560.66" rx="1.80" ry="2.07"/><line x1="701.00" y1="562.41" x2="707.78" y2="553.29" stroke-linecap="round"/></g>
<text transform="translate(710.87,563.10) scale(1.2451,1)" font-size="15.04" font-weight="bold" fill="#d43f6c">59</text>
<text transform="translate(358.81,748.90) scale(1.1200,1)" font-size="20.62" font-weight="bold" fill="#1e3a6a" stroke="#1e3a6a" stroke-width="1.00" stroke-linejoin="round" letter-spacing="0.70">On</text>
<text transform="translate(397.61,748.90) scale(1.1200,1)" font-size="20.62" font-weight="bold" fill="#1e3a6a" stroke="#1e3a6a" stroke-width="1.00" stroke-linejoin="round" letter-spacing="0.53">İki</text>
<text transform="translate(430.48,748.90) scale(1.1165,1)" font-size="20.62" font-weight="bold" fill="#1e3a6a" stroke="#1e3a6a" stroke-width="1.00" stroke-linejoin="round">Aylık</text>
<text transform="translate(495.51,748.90) scale(1.1200,1)" font-size="20.62" font-weight="bold" fill="#1e3a6a" stroke="#1e3a6a" stroke-width="1.00" stroke-linejoin="round" letter-spacing="0.68">Ortalama</text>
<text transform="translate(609.21,748.90) scale(1.1200,1)" font-size="20.62" font-weight="bold" fill="#1e3a6a" stroke="#1e3a6a" stroke-width="1.00" stroke-linejoin="round" letter-spacing="0.28">Enflasyon</text>
<g stroke="#4a4862" stroke-width="1.5"><line x1="71.8" y1="763.9" x2="737.5" y2="763.9"/><line x1="20.8" y1="787.0" x2="737.5" y2="787.0"/><line x1="20.8" y1="818.8" x2="737.5" y2="818.8"/><line x1="20.8" y1="851.0" x2="737.5" y2="851.0"/><line x1="20.8" y1="892.2" x2="737.5" y2="892.2"/><line x1="21.5" y1="787.0" x2="21.5" y2="892.2"/><line x1="72.5" y1="763.9" x2="72.5" y2="892.2"/><line x1="127.5" y1="763.9" x2="127.5" y2="892.2"/><line x1="182.8" y1="763.9" x2="182.8" y2="892.2"/><line x1="238.7" y1="763.9" x2="238.7" y2="892.2"/><line x1="294.0" y1="763.9" x2="294.0" y2="892.2"/><line x1="349.9" y1="763.9" x2="349.9" y2="892.2"/><line x1="405.7" y1="763.9" x2="405.7" y2="892.2"/><line x1="460.6" y1="763.9" x2="460.6" y2="892.2"/><line x1="520.5" y1="763.9" x2="520.5" y2="892.2"/><line x1="572.3" y1="763.9" x2="572.3" y2="892.2"/><line x1="625.8" y1="763.9" x2="625.8" y2="892.2"/><line x1="682.8" y1="763.9" x2="682.8" y2="892.2"/><line x1="736.8" y1="763.9" x2="736.8" y2="892.2"/></g>
<text transform="translate(85.73,777.60) scale(1.1133,1)" font-size="10.45" font-weight="normal" fill="#3b3d58" stroke="#3b3d58" stroke-width="0.60" stroke-linejoin="round">Ocak</text>
<g fill="none" stroke="#2c3356" stroke-width="1.02"><ellipse cx="86.56" cy="800.31" rx="1.20" ry="1.39"/><ellipse cx="91.91" cy="804.12" rx="1.20" ry="1.39"/><line x1="87.09" y1="805.29" x2="91.73" y2="799.04" stroke-linecap="round"/></g>
<text transform="translate(94.24,805.82) scale(1.0000,1)" font-size="10.24" font-weight="bold" fill="#2c3356" stroke="#2c3356" stroke-width="0.15" stroke-linejoin="round" letter-spacing="0.07">41,40</text>
<g fill="none" stroke="#2c3356" stroke-width="1.02"><ellipse cx="89.46" cy="832.61" rx="1.20" ry="1.39"/><ellipse cx="94.80" cy="836.42" rx="1.20" ry="1.39"/><line x1="89.98" y1="837.59" x2="94.63" y2="831.34" stroke-linecap="round"/></g>
<text transform="translate(97.13,838.12) scale(1.0000,1)" font-size="10.24" font-weight="bold" fill="#2c3356" stroke="#2c3356" stroke-width="0.15" stroke-linejoin="round" letter-spacing="0.06">4,50</text>
<g fill="none" stroke="#2c3356" stroke-width="1.02"><ellipse cx="86.56" cy="867.91" rx="1.20" ry="1.39"/><ellipse cx="91.91" cy="871.72" rx="1.20" ry="1.39"/><line x1="87.09" y1="872.89" x2="91.73" y2="866.64" stroke-linecap="round"/></g>
<text transform="translate(94.08,873.42) scale(1.0000,1)" font-size="10.24" font-weight="bold" fill="#2c3356" stroke="#2c3356" stroke-width="0.15" stroke-linejoin="round" letter-spacing="0.11">56,30</text>
<text transform="translate(139.37,777.60) scale(1.1326,1)" font-size="10.45" font-weight="normal" fill="#3b3d58" stroke="#3b3d58" stroke-width="0.60" stroke-linejoin="round">Şubat</text>
<g fill="none" stroke="#2c3356" stroke-width="1.02"><ellipse cx="141.81" cy="800.31" rx="1.20" ry="1.39"/><ellipse cx="147.16" cy="804.12" rx="1.20" ry="1.39"/><line x1="142.34" y1="805.29" x2="146.98" y2="799.04" stroke-linecap="round"/></g>
<text transform="translate(149.41,805.82) scale(1.0000,1)" font-size="10.24" font-weight="bold" fill="#2c3356" stroke="#2c3356" stroke-width="0.15" stroke-linejoin="round" letter-spacing="0.09">39,30</text>
<g fill="none" stroke="#2c3356" stroke-width="1.02"><ellipse cx="144.71" cy="832.61" rx="1.20" ry="1.39"/><ellipse cx="150.05" cy="836.42" rx="1.20" ry="1.39"/><line x1="145.23" y1="837.59" x2="149.88" y2="831.34" stroke-linecap="round"/></g>
<text transform="translate(152.30,838.12) scale(1.0000,1)" font-size="10.24" font-weight="bold" fill="#2c3356" stroke="#2c3356" stroke-width="0.15" stroke-linejoin="round" letter-spacing="0.09">3,00</text>
<g fill="none" stroke="#2c3356" stroke-width="1.02"><ellipse cx="141.81" cy="867.91" rx="1.20" ry="1.39"/><ellipse cx="147.16" cy="871.72" rx="1.20" ry="1.39"/><line x1="142.34" y1="872.89" x2="146.98" y2="866.64" stroke-linecap="round"/></g>
<text transform="translate(149.33,873.42) scale(1.0000,1)" font-size="10.24" font-weight="bold" fill="#2c3356" stroke="#2c3356" stroke-width="0.15" stroke-linejoin="round" letter-spacing="0.11">53,80</text>
<text transform="translate(197.17,777.60) scale(1.2000,1)" font-size="10.45" font-weight="normal" fill="#3b3d58" stroke="#3b3d58" stroke-width="0.60" stroke-linejoin="round" letter-spacing="0.20">Mart</text>
<g fill="none" stroke="#2c3356" stroke-width="1.02"><ellipse cx="197.61" cy="800.31" rx="1.20" ry="1.39"/><ellipse cx="202.96" cy="804.12" rx="1.20" ry="1.39"/><line x1="198.14" y1="805.29" x2="202.78" y2="799.04" stroke-linecap="round"/></g>
<text transform="translate(205.21,805.82) scale(1.0000,1)" font-size="10.24" font-weight="bold" fill="#2c3356" stroke="#2c3356" stroke-width="0.15" stroke-linejoin="round" letter-spacing="0.09">38,00</text>
<g fill="none" stroke="#2c3356" stroke-width="1.02"><ellipse cx="200.51" cy="832.61" rx="1.20" ry="1.39"/><ellipse cx="205.85" cy="836.42" rx="1.20" ry="1.39"/><line x1="201.03" y1="837.59" x2="205.68" y2="831.34" stroke-linecap="round"/></g>
<text transform="translate(207.98,838.12) scale(1.0000,1)" font-size="10.24" font-weight="bold" fill="#2c3356" stroke="#2c3356" stroke-width="0.15" stroke-linejoin="round" letter-spacing="0.13">2,20</text>
<g fill="none" stroke="#2c3356" stroke-width="1.02"><ellipse cx="197.61" cy="867.91" rx="1.20" ry="1.39"/><ellipse cx="202.96" cy="871.72" rx="1.20" ry="1.39"/><line x1="198.14" y1="872.89" x2="202.78" y2="866.64" stroke-linecap="round"/></g>
<text transform="translate(205.13,873.42) scale(1.0000,1)" font-size="10.24" font-weight="bold" fill="#2c3356" stroke="#2c3356" stroke-width="0.15" stroke-linejoin="round" letter-spacing="0.11">51,20</text>
<text transform="translate(250.36,777.60) scale(1.1631,1)" font-size="10.45" font-weight="normal" fill="#3b3d58" stroke="#3b3d58" stroke-width="0.60" stroke-linejoin="round">Nisan</text>
<g fill="none" stroke="#2c3356" stroke-width="1.02"><ellipse cx="252.96" cy="800.31" rx="1.20" ry="1.39"/><ellipse cx="258.31" cy="804.12" rx="1.20" ry="1.39"/><line x1="253.49" y1="805.29" x2="258.13" y2="799.04" stroke-linecap="round"/></g>
<text transform="translate(260.56,805.82) scale(1.0000,1)" font-size="10.24" font-weight="bold" fill="#2c3356" stroke="#2c3356" stroke-width="0.15" stroke-linejoin="round" letter-spacing="0.09">36,40</text>
<g fill="none" stroke="#2c3356" stroke-width="1.02"><ellipse cx="255.87" cy="832.61" rx="1.20" ry="1.39"/><ellipse cx="261.22" cy="836.42" rx="1.20" ry="1.39"/><line x1="256.40" y1="837.59" x2="261.04" y2="831.34" stroke-linecap="round"/></g>
<text transform="translate(263.06,838.12) scale(1.0000,1)" font-size="10.24" font-weight="bold" fill="#2c3356" stroke="#2c3356" stroke-width="0.15" stroke-linejoin="round" letter-spacing="0.23">1,97</text>
<g fill="none" stroke="#2c3356" stroke-width="1.02"><ellipse cx="252.96" cy="867.91" rx="1.20" ry="1.39"/><ellipse cx="258.31" cy="871.72" rx="1.20" ry="1.39"/><line x1="253.49" y1="872.89" x2="258.13" y2="866.64" stroke-linecap="round"/></g>
<text transform="translate(260.64,873.42) scale(1.0000,1)" font-size="10.24" font-weight="bold" fill="#2c3356" stroke="#2c3356" stroke-width="0.15" stroke-linejoin="round" letter-spacing="0.07">48,50</text>
<text transform="translate(305.45,777.60) scale(1.1304,1)" font-size="10.45" font-weight="normal" fill="#3b3d58" stroke="#3b3d58" stroke-width="0.60" stroke-linejoin="round">Mayıs</text>
<g fill="none" stroke="#2c3356" stroke-width="1.02"><ellipse cx="308.31" cy="800.31" rx="1.20" ry="1.39"/><ellipse cx="313.66" cy="804.12" rx="1.20" ry="1.39"/><line x1="308.84" y1="805.29" x2="313.48" y2="799.04" stroke-linecap="round"/></g>
<text transform="translate(315.91,805.82) scale(1.0000,1)" font-size="10.24" font-weight="bold" fill="#2c3356" stroke="#2c3356" stroke-width="0.15" stroke-linejoin="round" letter-spacing="0.09">34,60</text>
<g fill="none" stroke="#2c3356" stroke-width="1.02"><ellipse cx="311.22" cy="832.61" rx="1.20" ry="1.39"/><ellipse cx="316.57" cy="836.42" rx="1.20" ry="1.39"/><line x1="311.75" y1="837.59" x2="316.39" y2="831.34" stroke-linecap="round"/></g>
<text transform="translate(318.41,838.12) scale(1.0000,1)" font-size="10.24" font-weight="bold" fill="#2c3356" stroke="#2c3356" stroke-width="0.15" stroke-linejoin="round" letter-spacing="0.23">1,97</text>
<g fill="none" stroke="#2c3356" stroke-width="1.02"><ellipse cx="308.31" cy="867.91" rx="1.20" ry="1.39"/><ellipse cx="313.66" cy="871.72" rx="1.20" ry="1.39"/><line x1="308.84" y1="872.89" x2="313.48" y2="866.64" stroke-linecap="round"/></g>
<text transform="translate(315.99,873.42) scale(1.0000,1)" font-size="10.24" font-weight="bold" fill="#2c3356" stroke="#2c3356" stroke-width="0.15" stroke-linejoin="round" letter-spacing="0.07">45,50</text>
<text transform="translate(355.44,777.60) scale(1.1884,1)" font-size="10.45" font-weight="normal" fill="#3b3d58" stroke="#3b3d58" stroke-width="0.60" stroke-linejoin="round">Haziran</text>
<g fill="none" stroke="#2c3356" stroke-width="1.02"><ellipse cx="364.36" cy="800.31" rx="1.20" ry="1.39"/><ellipse cx="369.71" cy="804.12" rx="1.20" ry="1.39"/><line x1="364.89" y1="805.29" x2="369.53" y2="799.04" stroke-linecap="round"/></g>
<text transform="translate(371.96,805.82) scale(1.0000,1)" font-size="10.24" font-weight="bold" fill="#2c3356" stroke="#2c3356" stroke-width="0.15" stroke-linejoin="round" letter-spacing="0.09">35,00</text>
<g fill="none" stroke="#2c3356" stroke-width="1.02"><ellipse cx="367.27" cy="832.61" rx="1.20" ry="1.39"/><ellipse cx="372.62" cy="836.42" rx="1.20" ry="1.39"/><line x1="367.80" y1="837.59" x2="372.44" y2="831.34" stroke-linecap="round"/></g>
<text transform="translate(374.46,838.12) scale(1.0000,1)" font-size="10.24" font-weight="bold" fill="#2c3356" stroke="#2c3356" stroke-width="0.15" stroke-linejoin="round" letter-spacing="0.23">1,97</text>
<g fill="none" stroke="#2c3356" stroke-width="1.02"><ellipse cx="364.36" cy="867.91" rx="1.20" ry="1.39"/><ellipse cx="369.71" cy="871.72" rx="1.20" ry="1.39"/><line x1="364.89" y1="872.89" x2="369.53" y2="866.64" stroke-linecap="round"/></g>
<text transform="translate(372.04,873.42) scale(1.0000,1)" font-size="10.24" font-weight="bold" fill="#2c3356" stroke="#2c3356" stroke-width="0.15" stroke-linejoin="round" letter-spacing="0.07">43,00</text>
<text transform="translate(409.05,777.60) scale(1.1579,1)" font-size="10.45" font-weight="normal" fill="#3b3d58" stroke="#3b3d58" stroke-width="0.60" stroke-linejoin="round">Temmuz</text>
<g fill="none" stroke="#2c3356" stroke-width="1.02"><ellipse cx="419.41" cy="800.31" rx="1.20" ry="1.39"/><ellipse cx="424.76" cy="804.12" rx="1.20" ry="1.39"/><line x1="419.94" y1="805.29" x2="424.58" y2="799.04" stroke-linecap="round"/></g>
<text transform="translate(427.01,805.82) scale(1.0000,1)" font-size="10.24" font-weight="bold" fill="#2c3356" stroke="#2c3356" stroke-width="0.15" stroke-linejoin="round" letter-spacing="0.09">32,70</text>
<g fill="none" stroke="#2c3356" stroke-width="1.02"><ellipse cx="422.12" cy="832.61" rx="1.20" ry="1.39"/><ellipse cx="427.47" cy="836.42" rx="1.20" ry="1.39"/><line x1="422.65" y1="837.59" x2="427.29" y2="831.34" stroke-linecap="round"/></g>
<text transform="translate(429.30,838.12) scale(1.0000,1)" font-size="10.39" font-weight="bold" fill="#2c3356" stroke="#2c3356" stroke-width="0.15" stroke-linejoin="round" letter-spacing="0.13">1,44</text>
<g fill="none" stroke="#2c3356" stroke-width="1.02"><ellipse cx="419.41" cy="867.91" rx="1.20" ry="1.39"/><ellipse cx="424.76" cy="871.72" rx="1.20" ry="1.39"/><line x1="419.94" y1="872.89" x2="424.58" y2="866.64" stroke-linecap="round"/></g>
<text transform="translate(427.09,873.42) scale(1.0000,1)" font-size="10.24" font-weight="bold" fill="#2c3356" stroke="#2c3356" stroke-width="0.15" stroke-linejoin="round" letter-spacing="0.07">40,80</text>
<text transform="translate(466.21,777.60) scale(1.1586,1)" font-size="10.45" font-weight="normal" fill="#3b3d58" stroke="#3b3d58" stroke-width="0.60" stroke-linejoin="round">Ağustos</text>
<g fill="none" stroke="#2c3356" stroke-width="1.02"><ellipse cx="474.76" cy="800.31" rx="1.20" ry="1.39"/><ellipse cx="480.11" cy="804.12" rx="1.20" ry="1.39"/><line x1="475.29" y1="805.29" x2="479.93" y2="799.04" stroke-linecap="round"/></g>
<text transform="translate(482.36,805.82) scale(1.0000,1)" font-size="10.24" font-weight="bold" fill="#2c3356" stroke="#2c3356" stroke-width="0.15" stroke-linejoin="round" letter-spacing="0.09">31,30</text>
<g fill="none" stroke="#2c3356" stroke-width="1.02"><ellipse cx="477.47" cy="832.61" rx="1.20" ry="1.39"/><ellipse cx="482.82" cy="836.42" rx="1.20" ry="1.39"/><line x1="478.00" y1="837.59" x2="482.64" y2="831.34" stroke-linecap="round"/></g>
<text transform="translate(484.65,838.12) scale(1.0000,1)" font-size="10.39" font-weight="bold" fill="#2c3356" stroke="#2c3356" stroke-width="0.15" stroke-linejoin="round" letter-spacing="0.13">1,44</text>
<g fill="none" stroke="#2c3356" stroke-width="1.02"><ellipse cx="474.76" cy="867.91" rx="1.20" ry="1.39"/><ellipse cx="480.11" cy="871.72" rx="1.20" ry="1.39"/><line x1="475.29" y1="872.89" x2="479.93" y2="866.64" stroke-linecap="round"/></g>
<text transform="translate(482.36,873.42) scale(1.0000,1)" font-size="10.24" font-weight="bold" fill="#2c3356" stroke="#2c3356" stroke-width="0.15" stroke-linejoin="round" letter-spacing="0.09">39,10</text>
<text transform="translate(528.29,777.60) scale(1.2000,1)" font-size="10.45" font-weight="normal" fill="#3b3d58" stroke="#3b3d58" stroke-width="0.60" stroke-linejoin="round" letter-spacing="0.57">Eylül</text>
<g fill="none" stroke="#2c3356" stroke-width="1.02"><ellipse cx="530.41" cy="800.31" rx="1.20" ry="1.39"/><ellipse cx="535.76" cy="804.12" rx="1.20" ry="1.39"/><line x1="530.94" y1="805.29" x2="535.58" y2="799.04" stroke-linecap="round"/></g>
<text transform="translate(537.89,805.82) scale(1.0000,1)" font-size="10.24" font-weight="bold" fill="#2c3356" stroke="#2c3356" stroke-width="0.15" stroke-linejoin="round" letter-spacing="0.12">29,40</text>
<g fill="none" stroke="#2c3356" stroke-width="1.02"><ellipse cx="533.12" cy="832.61" rx="1.20" ry="1.39"/><ellipse cx="538.47" cy="836.42" rx="1.20" ry="1.39"/><line x1="533.65" y1="837.59" x2="538.29" y2="831.34" stroke-linecap="round"/></g>
<text transform="translate(540.30,838.12) scale(1.0000,1)" font-size="10.39" font-weight="bold" fill="#2c3356" stroke="#2c3356" stroke-width="0.15" stroke-linejoin="round" letter-spacing="0.13">1,44</text>
<g fill="none" stroke="#2c3356" stroke-width="1.02"><ellipse cx="530.41" cy="867.91" rx="1.20" ry="1.39"/><ellipse cx="535.76" cy="871.72" rx="1.20" ry="1.39"/><line x1="530.94" y1="872.89" x2="535.58" y2="866.64" stroke-linecap="round"/></g>
<text transform="translate(538.01,873.42) scale(1.0000,1)" font-size="10.24" font-weight="bold" fill="#2c3356" stroke="#2c3356" stroke-width="0.15" stroke-linejoin="round" letter-spacing="0.09">37,50</text>
<text transform="translate(583.46,777.60) scale(1.2000,1)" font-size="10.45" font-weight="normal" fill="#3b3d58" stroke="#3b3d58" stroke-width="0.60" stroke-linejoin="round" letter-spacing="0.74">Ekim</text>
<g fill="none" stroke="#2c3356" stroke-width="1.02"><ellipse cx="585.76" cy="800.31" rx="1.20" ry="1.39"/><ellipse cx="591.11" cy="804.12" rx="1.20" ry="1.39"/><line x1="586.29" y1="805.29" x2="590.93" y2="799.04" stroke-linecap="round"/></g>
<text transform="translate(593.24,805.82) scale(1.0000,1)" font-size="10.24" font-weight="bold" fill="#2c3356" stroke="#2c3356" stroke-width="0.15" stroke-linejoin="round" letter-spacing="0.12">27,60</text>
<g fill="none" stroke="#2c3356" stroke-width="1.02"><ellipse cx="588.47" cy="832.61" rx="1.20" ry="1.39"/><ellipse cx="593.82" cy="836.42" rx="1.20" ry="1.39"/><line x1="589.00" y1="837.59" x2="593.64" y2="831.34" stroke-linecap="round"/></g>
<text transform="translate(595.65,838.12) scale(1.0000,1)" font-size="10.39" font-weight="bold" fill="#2c3356" stroke="#2c3356" stroke-width="0.15" stroke-linejoin="round" letter-spacing="0.13">1,44</text>
<g fill="none" stroke="#2c3356" stroke-width="1.02"><ellipse cx="585.76" cy="867.91" rx="1.20" ry="1.39"/><ellipse cx="591.11" cy="871.72" rx="1.20" ry="1.39"/><line x1="586.29" y1="872.89" x2="590.93" y2="866.64" stroke-linecap="round"/></g>
<text transform="translate(593.36,873.42) scale(1.0000,1)" font-size="10.24" font-weight="bold" fill="#2c3356" stroke="#2c3356" stroke-width="0.15" stroke-linejoin="round" letter-spacing="0.09">35,80</text>
<text transform="translate(637.03,777.60) scale(1.1593,1)" font-size="10.45" font-weight="normal" fill="#3b3d58" stroke="#3b3d58" stroke-width="0.60" stroke-linejoin="round">Kasım</text>
<g fill="none" stroke="#2c3356" stroke-width="1.02"><ellipse cx="641.31" cy="800.31" rx="1.20" ry="1.39"/><ellipse cx="646.66" cy="804.12" rx="1.20" ry="1.39"/><line x1="641.84" y1="805.29" x2="646.48" y2="799.04" stroke-linecap="round"/></g>
<text transform="translate(648.79,805.82) scale(1.0000,1)" font-size="10.24" font-weight="bold" fill="#2c3356" stroke="#2c3356" stroke-width="0.15" stroke-linejoin="round" letter-spacing="0.12">26,60</text>
<g fill="none" stroke="#2c3356" stroke-width="1.02"><ellipse cx="644.02" cy="832.61" rx="1.20" ry="1.39"/><ellipse cx="649.37" cy="836.42" rx="1.20" ry="1.39"/><line x1="644.55" y1="837.59" x2="649.19" y2="831.34" stroke-linecap="round"/></g>
<text transform="translate(651.20,838.12) scale(1.0000,1)" font-size="10.39" font-weight="bold" fill="#2c3356" stroke="#2c3356" stroke-width="0.15" stroke-linejoin="round" letter-spacing="0.13">1,44</text>
<g fill="none" stroke="#2c3356" stroke-width="1.02"><ellipse cx="641.31" cy="867.91" rx="1.20" ry="1.39"/><ellipse cx="646.66" cy="871.72" rx="1.20" ry="1.39"/><line x1="641.84" y1="872.89" x2="646.48" y2="866.64" stroke-linecap="round"/></g>
<text transform="translate(648.91,873.42) scale(1.0000,1)" font-size="10.24" font-weight="bold" fill="#2c3356" stroke="#2c3356" stroke-width="0.15" stroke-linejoin="round" letter-spacing="0.09">34,20</text>
<text transform="translate(694.69,777.60) scale(1.1274,1)" font-size="10.45" font-weight="normal" fill="#3b3d58" stroke="#3b3d58" stroke-width="0.60" stroke-linejoin="round">Aralık</text>
<g fill="none" stroke="#2c3356" stroke-width="1.02"><ellipse cx="694.41" cy="800.31" rx="1.20" ry="1.39"/><ellipse cx="699.76" cy="804.12" rx="1.20" ry="1.39"/><line x1="694.94" y1="805.29" x2="699.58" y2="799.04" stroke-linecap="round"/></g>
<text transform="translate(701.89,805.82) scale(1.0000,1)" font-size="10.24" font-weight="bold" fill="#2c3356" stroke="#2c3356" stroke-width="0.15" stroke-linejoin="round" letter-spacing="0.12">27,10</text>
<g fill="none" stroke="#2c3356" stroke-width="1.02"><ellipse cx="697.12" cy="832.61" rx="1.20" ry="1.39"/><ellipse cx="702.47" cy="836.42" rx="1.20" ry="1.39"/><line x1="697.65" y1="837.59" x2="702.29" y2="831.34" stroke-linecap="round"/></g>
<text transform="translate(704.30,838.12) scale(1.0000,1)" font-size="10.39" font-weight="bold" fill="#2c3356" stroke="#2c3356" stroke-width="0.15" stroke-linejoin="round" letter-spacing="0.13">1,44</text>
<g fill="none" stroke="#2c3356" stroke-width="1.02"><ellipse cx="694.41" cy="867.91" rx="1.20" ry="1.39"/><ellipse cx="699.76" cy="871.72" rx="1.20" ry="1.39"/><line x1="694.94" y1="872.89" x2="699.58" y2="866.64" stroke-linecap="round"/></g>
<text transform="translate(702.01,873.42) scale(1.0000,1)" font-size="10.24" font-weight="bold" fill="#2c3356" stroke="#2c3356" stroke-width="0.15" stroke-linejoin="round" letter-spacing="0.09">32,80</text>
<text transform="translate(25.89,783.53) scale(1.0725,1)" font-size="8.09" font-weight="bold" fill="#2c3356" stroke="#2c3356" stroke-width="0.35" stroke-linejoin="round">2025 T</text>
<text transform="translate(25.52,805.83) scale(0.9948,1)" font-size="9.08" font-weight="bold" fill="#2c3356" stroke="#2c3356" stroke-width="0.35" stroke-linejoin="round">Yıllık</text>
<text transform="translate(25.05,837.73) scale(1.0092,1)" font-size="8.94" font-weight="bold" fill="#2c3356" stroke="#2c3356" stroke-width="0.35" stroke-linejoin="round">Aylık</text>
<text transform="translate(24.86,864.43) scale(1.3000,1)" font-size="6.95" font-weight="bold" fill="#2c3356" stroke="#2c3356" stroke-width="0.35" stroke-linejoin="round" letter-spacing="0.07">On İki</text>
<text transform="translate(25.00,873.33) scale(1.2624,1)" font-size="7.05" font-weight="bold" fill="#2c3356" stroke="#2c3356" stroke-width="0.35" stroke-linejoin="round">Aylık</text>
<text transform="translate(24.86,881.53) scale(1.2805,1)" font-size="6.95" font-weight="bold" fill="#2c3356" stroke="#2c3356" stroke-width="0.35" stroke-linejoin="round">Ortalama</text>
<text transform="translate(28.78,914.20) scale(1.0500,1)" font-size="10.76" font-weight="normal" fill="#4a4244" stroke="#4a4244" stroke-width="0.20" stroke-linejoin="round" letter-spacing="0.12">Kaynak: TÜİK, TCMB, Lotus Araştırma</text>
<path d="M634.9,900 C629.5,901 625,905.5 624.1,911.5 C623.8,913.5 624,915.2 624.4,916.4 C627.5,912.8 631,909.5 634.9,906.9 Z" fill="#1e3a6a"/>
<path d="M624.8,919.6 C625.2,913.5 629.5,908.6 635.5,907.9 C638,907.6 640.3,908 642.4,908.7 C640.5,915 635.5,920.3 629.5,920.5 C627.5,920.6 626,920.2 624.8,919.6 Z" fill="#d43f6c"/>
<text transform="translate(646.34,916.62) scale(1.0000,1)" font-size="16.91" font-weight="normal" fill="#c94a6a" stroke="#c94a6a" stroke-width="0.55" stroke-linejoin="round" letter-spacing="1.17">lotus</text>
<text transform="translate(688.93,916.43) scale(1.0000,1)" font-size="17.48" font-weight="normal" fill="#2e3450" stroke="#2e3450" stroke-width="0.55" stroke-linejoin="round" letter-spacing="0.66">finans</text>
</g></svg>
</body></html>
